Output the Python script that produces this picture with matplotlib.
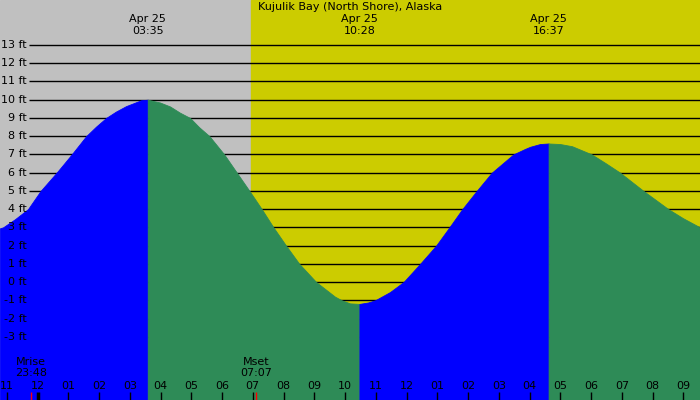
import matplotlib
matplotlib.use("Agg")
import numpy as np
import matplotlib.pyplot as plt

plt.rcParams['font.family'] = ['DejaVu Sans']

# Часы от полуночи 25 апреля и высота прилива (ft)
tide_hours = [-1.22, -1.12, -0.73, -0.31, 0.10, 0.62, 1.11, 1.58, 1.90, 2.23, 2.55,
              2.88, 3.20, 3.37, 3.583,
              3.98, 4.31, 4.63, 4.96, 5.25, 5.59, 6.07, 6.48, 6.89, 7.29, 7.67,
              8.08, 8.51, 9.06, 9.48, 9.67, 9.89, 10.16, 10.467,
              10.75, 10.98, 11.46, 11.90, 12.44, 12.96, 13.39, 13.81, 14.28, 14.77,
              15.47, 15.85, 16.02, 16.34, 16.617,
              16.99, 17.38, 18.02, 18.49, 18.94, 19.70, 20.51, 20.99, 21.54]
tide_ft = [2.95, 3.0, 3.45, 4.0, 5.0, 6.0, 7.0, 8.0, 8.52, 9.0, 9.35,
           9.65, 9.86, 9.97, 10.0,
           9.85, 9.63, 9.29, 9.0, 8.5, 8.0, 7.0, 6.0, 5.0, 4.0, 3.0,
           2.0, 1.0, 0.0, -0.55, -0.8, -1.0, -1.17, -1.2,
           -1.12, -1.0, -0.55, 0.0, 1.0, 2.0, 3.0, 4.0, 5.0, 6.0,
           7.0, 7.3, 7.42, 7.57, 7.6,
           7.57, 7.45, 7.0, 6.5, 6.0, 5.0, 4.0, 3.5, 3.0]

extreme_hours = [3.583, 10.467, 16.617]
extreme_labels = ['03:35', '10:28', '16:37']

levels = list(range(-3, 14))
hour_ticks = list(range(-1, 22))
hour_labels = ['11', '12', '01', '02', '03', '04', '05', '06', '07', '08', '09', '10',
               '11', '12', '01', '02', '03', '04', '05', '06', '07', '08', '09']

sunrise = 6.94
moon_events = [(-0.2, 'Mrise', '23:48'), (7.117, 'Mset', '07:07')]

t = np.array(tide_hours)
h = np.array(tide_ft)

fig = plt.figure(figsize=(7, 4), dpi=100)
ax = fig.add_axes([0, 0, 1, 1])
x0, x1 = -1.22, 21.54
y0, y1 = -6.47, 15.47
ax.set_xlim(x0, x1)
ax.set_ylim(y0, y1)
ax.axis('off')

# ночь / день
ax.axvspan(x0, sunrise, color='#c0c0c0', zorder=0)
ax.axvspan(sunrise, x1, color='#cccc00', zorder=0)

ytr = ax.get_yaxis_transform()
xtr = ax.get_xaxis_transform()
ax.hlines(levels, 29 / 700, 1, transform=ytr, color='black', lw=1, zorder=1)

# прилив синим, отлив зелёным
bounds = [t[0]] + extreme_hours + [t[-1]]
colors = ['#0000ff', '#2e8b57', '#0000ff', '#2e8b57']
for i in range(4):
    m = (t >= bounds[i]) & (t <= bounds[i + 1])
    ax.fill_between(t[m], h[m], y0, facecolor=colors[i], edgecolor=colors[i],
                    lw=0.6, zorder=2)

for lev in levels:
    ax.text(27 / 700, lev, f'{lev} ft', transform=ytr, ha='right', va='center',
            fontsize=8, zorder=5)

ax.text(0.5, 1 - 7 / 400, 'Kujulik Bay (North Shore), Alaska', transform=ax.transAxes,
        ha='center', va='center', fontsize=8, zorder=5)
for eh, lab in zip(extreme_hours, extreme_labels):
    ax.text(eh, 1 - 19 / 400, 'Apr 25', transform=xtr, ha='center', va='center', fontsize=8)
    ax.text(eh, 1 - 31 / 400, lab, transform=xtr, ha='center', va='center', fontsize=8)

for hh, lab in zip(hour_ticks, hour_labels):
    ax.vlines(hh, 0, 8 / 400, transform=xtr, color='black', lw=1 if hh != 0 else 2.5, zorder=5)
    ax.text(hh, 14 / 400, lab, transform=xtr, ha='center', va='center', fontsize=8, zorder=5)

for mh, name, tm in moon_events:
    ax.vlines(mh, 0, 8 / 400, transform=xtr, color='red', lw=1, zorder=6)
    ax.text(mh, 38 / 400, name, transform=xtr, ha='center', va='center', fontsize=8, zorder=5)
    ax.text(mh, 27 / 400, tm, transform=xtr, ha='center', va='center', fontsize=8, zorder=5)

fig.savefig('out.png', dpi=100)
